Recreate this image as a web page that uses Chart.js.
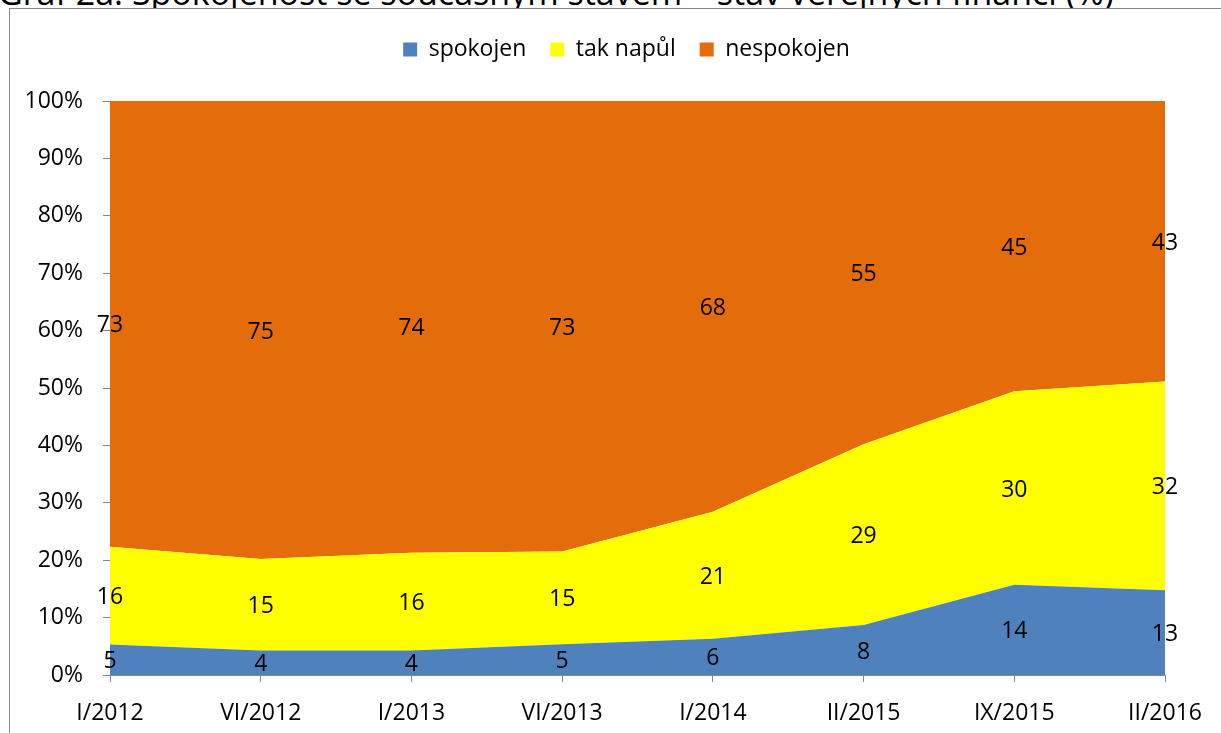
<!DOCTYPE html>
<html lang="cs">
<head>
<meta charset="utf-8">
<title>Spokojenost se současným stavem – stav veřejných financí</title>
<script src="https://cdn.jsdelivr.net/npm/chart.js@4/dist/chart.umd.min.js"></script>
<style>
    html, body { margin: 0; padding: 0; background: #fff; overflow: hidden; width: 1221px; height: 733px; }
    #title {
        position: absolute; left: -2px; top: -25px; white-space: nowrap;
        font-family: "Open Sans", sans-serif; font-size: 34px; line-height: 34px; color: #000;
    }
    #box {
        position: absolute; left: 9px; top: 8px; width: 1240px; height: 760px;
        border: 1px solid #878787; box-sizing: border-box; background: #fff;
    }
    #box canvas { display: block; }
</style>
</head>
<body>
<div id="title">Graf 2a: Spokojenost se současným stavem – stav veřejných financí (%)</div>
<div id="box"><canvas id="chart" width="1238" height="758"></canvas></div>
<script>
// Období a hodnoty (v %)
const obdobi = ['I/2012', 'VI/2012', 'I/2013', 'VI/2013', 'I/2014', 'II/2015', 'IX/2015', 'II/2016'];
const spokojen = [5, 4, 4, 5, 6, 8, 14, 13];
const takNapul = [16, 15, 16, 15, 21, 29, 30, 32];
const nespokojen = [73, 75, 74, 73, 68, 55, 45, 43];
const osaY = [0, 10, 20, 30, 40, 50, 60, 70, 80, 90, 100];

const FONT = { family: '"Open Sans", sans-serif', size: 23 };

// 100% skládaný graf - přepočet na podíly ze součtu
const soucty = obdobi.map((_, i) => spokojen[i] + takNapul[i] + nespokojen[i]);
const podil = arr => arr.map((v, i) => v / soucty[i] * 100);

function serie(label, raw, color, fill) {
    return {
        label: label,
        data: podil(raw),
        raw: raw,
        backgroundColor: color,
        borderColor: color,
        borderWidth: 0,
        pointRadius: 0,
        pointHoverRadius: 0,
        tension: 0,
        fill: fill
    };
}

// popisky hodnot uprostřed každého pásma
const popisky = {
    id: 'popisky',
    afterDatasetsDraw(chart) {
        const ctx = chart.ctx;
        const y = chart.scales.y;
        ctx.save();
        ctx.font = `${FONT.size}px ${FONT.family}`;
        ctx.fillStyle = '#000';
        ctx.textAlign = 'center';
        ctx.textBaseline = 'middle';
        chart.data.datasets.forEach((ds, di) => {
            const meta = chart.getDatasetMeta(di);
            meta.data.forEach((pt, i) => {
                let base = 0;
                for (let k = 0; k < di; k++) base += chart.data.datasets[k].data[i];
                const mid = y.getPixelForValue(base + ds.data[i] / 2);
                ctx.fillText(String(ds.raw[i]), pt.x, mid + 2);
            });
        });
        ctx.restore();
    }
};

// pevná výška legendy a posun na střed celého rámečku
const legendaVyska = {
    id: 'legendaVyska',
    beforeInit(chart) {
        const fit = chart.legend.fit;
        chart.legend.fit = function () {
            fit.call(this);
            this.height = 87;
        };
    },
    afterLayout(chart) {
        chart.legend.left += 39;
        chart.legend.right += 39;
    }
};

new Chart(document.getElementById('chart').getContext('2d'), {
    type: 'line',
    data: {
        labels: obdobi,
        datasets: [
            serie('spokojen', spokojen, '#4F81BD', 'origin'),
            serie('tak napůl', takNapul, '#FFFF00', '-1'),
            serie('nespokojen', nespokojen, '#E46C0A', '-1')
        ]
    },
    options: {
        responsive: false,
        animation: false,
        layout: { padding: { left: 0, right: 83, top: 5, bottom: 32 } },
        plugins: {
            legend: {
                position: 'top',
                align: 'center',
                labels: {
                    font: FONT,
                    color: '#000',
                    boxWidth: 14,
                    boxHeight: 14,
                    padding: 24
                }
            },
            tooltip: { enabled: false },
            filler: { propagate: false }
        },
        scales: {
            x: {
                offset: false,
                grid: { drawOnChartArea: false, drawTicks: true, tickLength: 7, color: '#868686' },
                border: { color: '#868686', width: 1 },
                ticks: { font: FONT, color: '#000', padding: 18, maxRotation: 0, autoSkip: false },
                afterFit(scale) { scale.height = 60; }
            },
            y: {
                stacked: true,
                min: 0,
                max: 100,
                grid: { drawOnChartArea: false, drawTicks: true, tickLength: 7, color: '#868686' },
                border: { color: '#868686', width: 1 },
                afterBuildTicks(scale) { scale.ticks = osaY.map(v => ({ value: v })); },
                ticks: {
                    font: FONT,
                    color: '#000',
                    padding: 20,
                    callback: v => v + '%'
                },
                afterFit(scale) { scale.width = 100; }
            }
        }
    },
    plugins: [popisky, legendaVyska]
});
</script>
</body>
</html>
